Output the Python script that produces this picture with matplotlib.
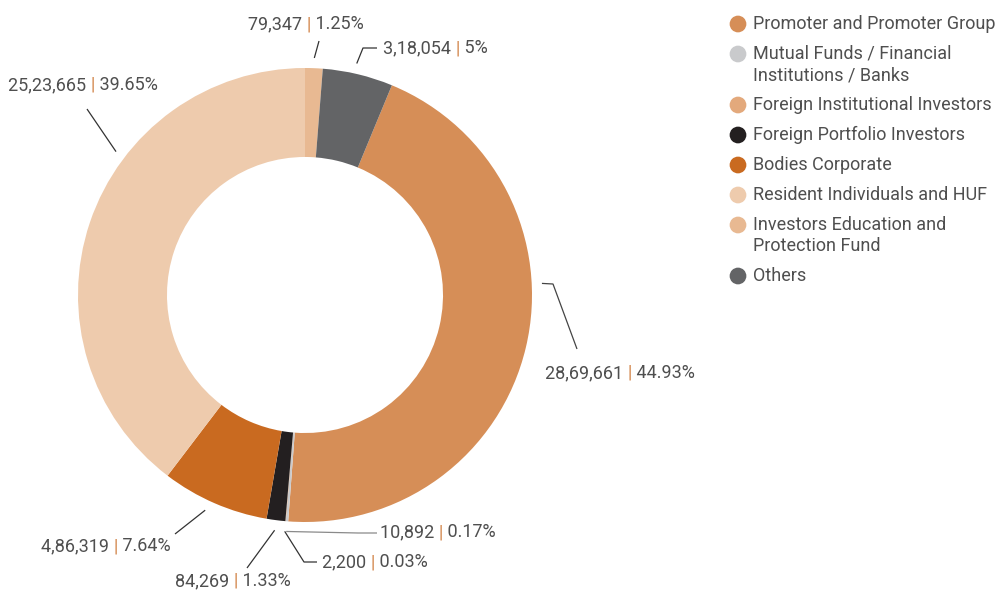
import numpy as np
import matplotlib
matplotlib.use("Agg")
import matplotlib.pyplot as plt

# shareholding pattern
categories = [
    "Promoter and Promoter Group",
    "Mutual Funds / Financial\nInstitutions / Banks",
    "Foreign Institutional Investors",
    "Foreign Portfolio Investors",
    "Bodies Corporate",
    "Resident Individuals and HUF",
    "Investors Education and\nProtection Fund",
    "Others",
]
shares = ["28,69,661", "10,892", "2,200", "84,269", "4,86,319", "25,23,665", "79,347", "3,18,054"]
percent = [44.93, 0.17, 0.03, 1.33, 7.64, 39.65, 1.25, 5.0]
pct_text = ["44.93%", "0.17%", "0.03%", "1.33%", "7.64%", "39.65%", "1.25%", "5%"]
colors = ["#D68E57", "#C9CACC", "#E3A97C", "#231F20", "#C96A20", "#EECBAD", "#E8B992", "#636466"]

TEXT = "#4f4f4f"
SEP = "#D07E40"
FONT = "Roboto"
FS = 13

W, H = 1001, 591
CX, CY, R = 305, 295, 227


def px(x, y):
    # pixel position -> data units (outer radius = 1)
    return (x - CX) / R, (CY - y) / R


fig = plt.figure(figsize=(W / 100, H / 100), dpi=100)
ax = fig.add_axes([0, 0, 1, 1])

start = 90 - (percent[6] + percent[7]) / 100 * 360
wedges, _ = ax.pie(percent, colors=colors, startangle=start, counterclock=False,
                   radius=1.0, wedgeprops=dict(width=0.392, linewidth=0))
ax.set_xlim(-CX / R, (W - CX) / R)
ax.set_ylim((CY - H) / R, CY / R)
ax.set_aspect("auto")
ax.axis("off")

# label layout: fraction along wedge for leader start, extra leader points, text left x / centre y (px)
label_frac = [0.40, 0.5, 0.5, 0.5, 0.55, 0.63, 0.5, 0.45]
leader_pts = [
    [(553, 284), (577, 349)],
    [(358, 533), (377, 533)],
    [(304, 562), (317, 562)],
    [(247, 568)],
    [(175, 534)],
    [(87, 109)],
    [(319, 41)],
    [(363, 48), (377, 48)],
]
text_pos = [(545, 373), (380, 532), (322, 562), (175, 581), (41, 546), (8, 85), (248, 24), (383, 48)]
leader_col = ["#444444", "#8a8a8a", "#333333", "#333333", "#333333", "#333333", "#333333", "#333333"]


def rainbow(x, y, parts, cols):
    t = ax.text(x, y, parts[0], color=cols[0], fontsize=FS, family=FONT,
                ha="left", va="center")
    for p, c in zip(parts[1:], cols[1:]):
        t = ax.annotate(p, xy=(1, 0), xycoords=t, va="bottom", ha="left",
                        color=c, fontsize=FS, family=FONT)


for i, w in enumerate(wedges):
    a = np.radians(w.theta2 - label_frac[i] * (w.theta2 - w.theta1))
    r0 = 1.045
    xs = [r0 * np.cos(a)] + [px(*p)[0] for p in leader_pts[i]]
    ys = [r0 * np.sin(a)] + [px(*p)[1] for p in leader_pts[i]]
    ax.plot(xs, ys, color=leader_col[i], lw=0.9, solid_capstyle="butt")
    tx, ty = px(*text_pos[i])
    rainbow(tx, ty, [shares[i] + " ", "|", " " + pct_text[i]], [TEXT, SEP, TEXT])

# legend
row = 0
for i, lab in enumerate(categories):
    y0 = 24 + 30 * i + 21 * row
    ax.scatter(*px(738, y0), s=145, color=colors[i], edgecolors="none", zorder=3)
    for j, line in enumerate(lab.split("\n")):
        ax.text(*px(753, y0 + 21 * j), line, color=TEXT, fontsize=FS, family=FONT,
                ha="left", va="center")
    row += lab.count("\n")

fig.savefig("out.png", dpi=100)
